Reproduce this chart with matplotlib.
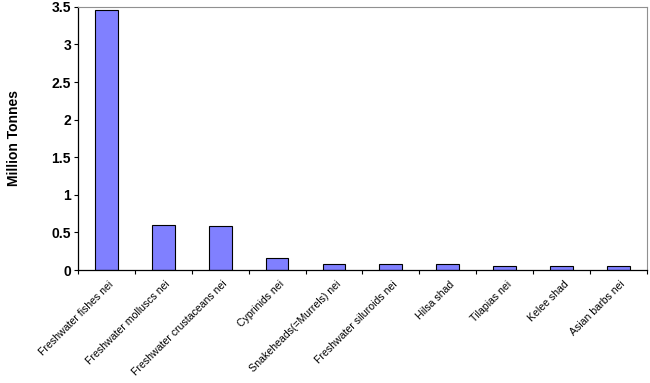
import numpy as np
import matplotlib.pyplot as plt

plt.rcParams['font.family'] = ['Liberation Sans', 'DejaVu Sans']

species = ["Freshwater fishes nei", "Freshwater molluscs nei", "Freshwater crustaceans nei",
           "Cyprinids nei", "Snakeheads(=Murrels) nei", "Freshwater siluroids nei",
           "Hilsa shad", "Tilapias nei", "Kelee shad", "Asian barbs nei"]
tonnes = [3.46, 0.60, 0.59, 0.16, 0.08, 0.08, 0.08, 0.05, 0.05, 0.05]
yticks = [0, 0.5, 1, 1.5, 2, 2.5, 3, 3.5]
ytick_labels = ["0", "0.5", "1", "1.5", "2", "2.5", "3", "3.5"]

fig = plt.figure(figsize=(6.5, 3.83), dpi=100)
ax = fig.add_axes([0.12, 0.295, 0.875, 0.687])

x = np.arange(len(species))
ax.bar(x, tonnes, width=0.4, color="#8080ff", edgecolor="black", linewidth=0.8)

ax.set_xlim(-0.5, len(species) - 0.5)
ax.set_ylim(0, 3.5)
ax.set_yticks(yticks)
ax.set_yticklabels(ytick_labels, fontsize=10, fontweight="bold")
ax.tick_params(axis="y", direction="out", length=3, width=0.8, pad=2)

# category ticks sit on the boundaries, labels under the bars
ax.set_xticks(np.arange(len(species) + 1) - 0.5)
ax.set_xticklabels([])
ax.tick_params(axis="x", direction="out", length=3, width=0.8)
for xi, name in zip(x, species):
    ax.text(xi + 0.03, -0.12, name, rotation=45, rotation_mode="anchor",
            ha="right", va="top", fontsize=7.6, transform=ax.transData)

ax.set_ylabel("Million Tonnes", fontsize=10, fontweight="bold")
ax.yaxis.set_label_coords(-0.1, 0.5)

for side in ["top", "right"]:
    ax.spines[side].set_color("#909090")
    ax.spines[side].set_linewidth(0.8)
for side in ["left", "bottom"]:
    ax.spines[side].set_color("black")
    ax.spines[side].set_linewidth(0.9)

fig.savefig("out.png", dpi=100)
